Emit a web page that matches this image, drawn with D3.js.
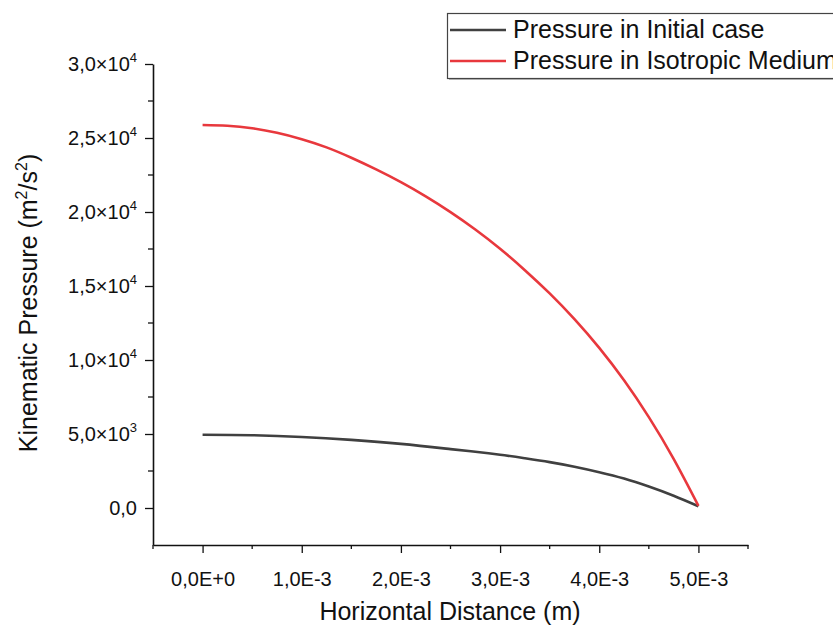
<!DOCTYPE html>
<html>
<head>
<meta charset="utf-8">
<script src="https://cdn.jsdelivr.net/npm/d3@7"></script>
<style>
  body { margin: 0; background: #fff; }
  svg { display: block; }
  text { font-family: "Liberation Sans", Arial, sans-serif; fill: #111; }
</style>
</head>
<body>
<svg id="chart" width="833" height="626"></svg>
<script>
// Data (x in metres, pressure in m^2/s^2)
const xInitial = [0, 0.0005, 0.001, 0.0015, 0.002, 0.0025, 0.00275, 0.003, 0.00325, 0.0035, 0.00375, 0.004, 0.00425, 0.0045, 0.00475, 0.005];
const pInitial = [4950, 4920, 4800, 4600, 4330, 3980, 3800, 3600, 3360, 3100, 2790, 2420, 1990, 1450, 830, 120];

const xIsotropic = [0, 0.00025, 0.0005, 0.00075, 0.001, 0.00125, 0.0015, 0.00175, 0.002, 0.00225, 0.0025, 0.00275, 0.003, 0.00325, 0.0035, 0.00375, 0.004, 0.00425, 0.0045, 0.00475, 0.005];
const pIsotropic = [25880, 25830, 25660, 25350, 24918, 24368, 23668, 22880, 22018, 21056, 19994, 18819, 17519, 16070, 14500, 12760, 10820, 8630, 6140, 3320, 150];

const seriesNames = ["Pressure in Initial case", "Pressure in Isotropic Medium"];
const seriesColors = ["#404040", "#e8383d"];

const xTicks = [0, 0.001, 0.002, 0.003, 0.004, 0.005];
const xTickLabels = ["0,0E+0", "1,0E-3", "2,0E-3", "3,0E-3", "4,0E-3", "5,0E-3"];
const xMinorTicks = [-0.0005, 0.0005, 0.0015, 0.0025, 0.0035, 0.0045, 0.0055];
const yTicks = [0, 5000, 10000, 15000, 20000, 25000, 30000];
const yTickMant = ["0,0", "5,0", "1,0", "1,5", "2,0", "2,5", "3,0"];
const yTickExp = [null, "3", "4", "4", "4", "4", "4"];
const yMinorTicks = [2500, 7500, 12500, 17500, 22500, 27500];

const svg = d3.select("#chart");
const x = d3.scaleLinear().domain([-0.0005, 0.0055]).range([153, 748]);
const y = d3.scaleLinear().domain([-2500, 30000]).range([545, 64]);

// X axis
const xAxisG = svg.append("g").attr("transform", `translate(0,${y(-2500)})`);
xAxisG.call(d3.axisBottom(x).tickValues(xTicks).tickSize(8).tickFormat((d, i) => xTickLabels[i]).tickSizeOuter(0));
xAxisG.selectAll(".minor").data(xMinorTicks).enter().append("line")
  .attr("x1", d => x(d)).attr("x2", d => x(d)).attr("y1", 0).attr("y2", 4)
  .attr("stroke", "#111").attr("stroke-width", 1.3);
xAxisG.selectAll(".tick text").attr("font-size", 20).attr("y", 41).attr("dy", 0)
  .style("font-family", "'Liberation Sans', Arial, sans-serif").attr("fill", "#222");

// Y axis
const yAxisG = svg.append("g").attr("transform", `translate(${x(-0.0005)},0)`);
yAxisG.call(d3.axisLeft(y).tickValues(yTicks).tickSize(8).tickFormat("").tickSizeOuter(0));
yAxisG.selectAll(".minor").data(yMinorTicks).enter().append("line")
  .attr("x1", 0).attr("x2", -5).attr("y1", d => y(d)).attr("y2", d => y(d))
  .attr("stroke", "#111").attr("stroke-width", 1.3);
[xAxisG, yAxisG].forEach(g => {
  g.select(".domain").attr("stroke", "#111").attr("stroke-width", 1.6);
  g.selectAll(".tick line").attr("stroke", "#111").attr("stroke-width", 1.3);
});

// Y tick labels with superscripts
yTicks.forEach((v, i) => {
  const t = svg.append("text")
    .attr("x", 137).attr("y", y(v) + 7)
    .attr("text-anchor", "end").attr("font-size", 20).attr("fill", "#222");
  if (yTickExp[i]) {
    t.append("tspan").text(yTickMant[i] + "\u00d710");
    t.append("tspan").attr("dy", -9).attr("font-size", 13).text(yTickExp[i]);
  } else {
    t.text(yTickMant[i]);
  }
});

// Axis titles
svg.append("text").attr("x", 450).attr("y", 620).attr("text-anchor", "middle")
  .attr("font-size", 25).text("Horizontal Distance (m)");
const yt = svg.append("text").attr("transform", "translate(37,303) rotate(-90)")
  .attr("text-anchor", "middle").attr("font-size", 25);
yt.append("tspan").text("Kinematic Pressure (m");
yt.append("tspan").attr("dy", -10).attr("font-size", 16).text("2");
yt.append("tspan").attr("dy", 10).text("/s");
yt.append("tspan").attr("dy", -10).attr("font-size", 16).text("2");
yt.append("tspan").attr("dy", 10).text(")");

// Lines
const line = d3.line().x(d => x(d[0])).y(d => y(d[1])).curve(d3.curveNatural);
const dataSets = [
  d3.zip(xInitial, pInitial),
  d3.zip(xIsotropic, pIsotropic)
];
dataSets.forEach((ds, i) => {
  svg.append("path").datum(ds).attr("d", line)
    .attr("fill", "none").attr("stroke", seriesColors[i]).attr("stroke-width", 2.6)
    .attr("stroke-linejoin", "round");
});

// Legend (the reference legend runs off the right edge of the picture)
svg.append("rect").attr("x", 448).attr("y", 14).attr("width", 400).attr("height", 65)
  .attr("fill", "#bbb").attr("transform", "translate(1,1)");
svg.append("rect").attr("x", 447.5).attr("y", 13.5).attr("width", 400).attr("height", 65)
  .attr("fill", "#fff").attr("stroke", "#444").attr("stroke-width", 1.2);
seriesNames.forEach((name, i) => {
  const ly = 30 + i * 31;
  svg.append("line").attr("x1", 450).attr("x2", 506).attr("y1", ly).attr("y2", ly)
    .attr("stroke", seriesColors[i]).attr("stroke-width", 2.6);
  svg.append("text").attr("x", 513).attr("y", ly + 8).attr("font-size", 25).text(name);
});
</script>
</body>
</html>
